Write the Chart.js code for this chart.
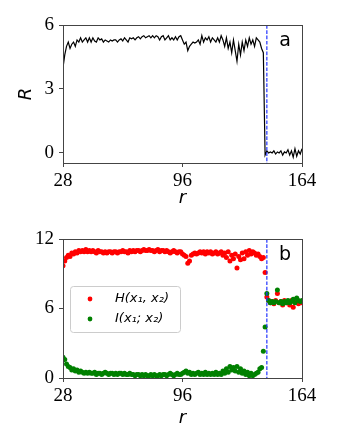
<!DOCTYPE html>
<html>
<head>
<meta charset="utf-8">
<script src="https://cdn.jsdelivr.net/npm/chart.js@4.4.0/dist/chart.umd.min.js"></script>
<style>
  body { margin: 0; background: #fff; }
  #wrapA { position: absolute; left: 0; top: 0; width: 338px; height: 215px; }
  #wrapB { position: absolute; left: 0; top: 215px; width: 338px; height: 232px; }
</style>
</head>
<body>
<div id="wrapA"><canvas id="chartA"></canvas></div>
<div id="wrapB"><canvas id="chartB"></canvas></div>
<script>
// r goes 28..164 in steps of 1
const r = Array.from({length: 137}, (_, i) => 28 + i);

const R = [
  4.0,4.6,5.0,5.2,4.9,5.1,5.2,5.0,5.3,5.2,
  5.4,5.2,5.3,5.4,5.2,5.4,5.2,5.4,5.25,5.2,
  5.4,5.3,5.35,5.2,5.3,5.25,5.2,5.3,5.25,5.3,
  5.3,5.2,5.3,5.35,5.25,5.4,5.3,5.2,5.4,5.35,
  5.4,5.3,5.4,5.45,5.35,5.45,5.5,5.4,5.45,5.5,
  5.4,5.5,5.4,5.5,5.45,5.3,5.45,5.5,5.3,5.4,
  5.5,5.3,5.4,5.3,5.45,5.3,5.45,5.5,5.3,5.1,
  5.2,4.8,5.0,5.1,5.2,5.15,5.2,5.3,5.1,5.5,
  5.2,5.4,5.3,5.45,5.2,5.4,5.3,5.2,5.4,5.2,
  5.5,5.3,5.0,5.4,4.9,5.2,4.7,5.3,4.8,4.3,
  5.1,4.6,5.2,4.8,5.3,5.0,5.4,5.1,5.3,5.0,
  5.4,5.3,5.2,4.9,4.7,-0.1,0.1,0.0,0.05,0.0,
  0.1,-0.05,0.05,0.0,0.1,-0.1,0.05,0.0,0.15,-0.1,
  0.1,-0.2,0.2,-0.15,0.1,-0.05,0.2
];

const H = [
  9.7,10.1,10.4,10.6,10.5,10.8,10.7,10.9,10.8,11.0,
  10.9,11.0,10.9,11.1,10.9,11.0,10.9,11.0,10.9,10.8,
  11.0,10.9,10.9,10.8,10.9,10.8,10.9,10.9,10.8,10.9,
  10.9,10.8,10.9,10.9,11.0,10.9,10.9,10.8,11.0,10.9,
  11.0,10.9,11.0,11.0,10.9,11.0,11.1,11.0,11.0,11.1,
  11.0,11.0,10.9,11.0,11.1,10.9,11.0,11.0,10.9,11.0,
  10.9,10.8,10.9,11.0,10.9,10.8,10.9,10.9,10.7,10.6,
  10.5,9.9,10.1,10.6,10.7,10.8,10.7,10.8,10.9,10.8,
  10.9,10.7,10.9,10.8,10.9,10.7,10.8,10.9,10.7,10.8,
  10.9,10.6,10.8,10.4,10.9,10.1,10.6,10.3,10.7,9.5,
  10.5,10.2,10.8,10.3,10.9,10.6,11.0,10.7,10.9,10.8,
  10.6,10.7,10.5,10.3,10.4,9.1,7.0,6.7,6.5,6.6,
  6.4,6.7,7.3,6.5,6.6,6.3,6.7,6.5,6.6,6.3,
  6.7,6.1,6.6,6.8,6.4,6.6,6.5
];

const I = [
  1.8,1.6,1.2,1.0,0.9,0.7,0.8,0.6,0.7,0.5,
  0.6,0.5,0.4,0.5,0.4,0.5,0.4,0.4,0.5,0.3,
  0.4,0.4,0.3,0.4,0.5,0.4,0.3,0.4,0.4,0.3,
  0.4,0.3,0.4,0.4,0.3,0.4,0.3,0.3,0.4,0.3,
  0.3,0.2,0.3,0.3,0.2,0.3,0.2,0.3,0.2,0.2,
  0.3,0.2,0.3,0.2,0.2,0.3,0.2,0.3,0.3,0.2,
  0.3,0.4,0.3,0.2,0.3,0.4,0.3,0.3,0.4,0.5,
  0.6,0.4,0.5,0.3,0.4,0.3,0.4,0.5,0.3,0.4,
  0.3,0.5,0.3,0.4,0.3,0.4,0.3,0.5,0.3,0.4,
  0.3,0.6,0.4,0.8,0.5,1.0,0.7,0.9,0.6,1.0,
  0.5,0.8,0.4,0.6,0.3,0.5,0.2,0.4,0.2,0.3,
  0.4,0.5,0.8,0.9,2.3,4.4,7.3,6.7,6.5,6.6,
  6.5,6.6,7.6,6.5,6.6,6.4,6.6,6.5,6.7,6.5,
  6.6,6.8,6.5,6.9,6.7,6.6,6.7
];

const xTicks = [28, 96, 164];
const yTicksA = [0, 3, 6];
const yTicksB = [0, 6, 12];
const vline = 144;
const legendLabels = ['H(x\u2081, x\u2082)', 'I(x\u2081; x\u2082)'];

const tickFont = { family: 'Liberation Serif', size: 19 };
const axisColor = '#444';

function pts(ys) {
  return r.map((v, i) => ({ x: v, y: ys[i] }));
}

function xScale(h, titlePad) {
  return {
    type: 'linear', min: 28, max: 164,
    afterBuildTicks: s => { s.ticks = xTicks.map(v => ({ value: v })); },
    afterFit: s => { s.height = h; },
    grid: { drawOnChartArea: false, drawTicks: true, tickLength: 4, color: axisColor },
    border: { display: true, color: axisColor, width: 1 },
    ticks: { color: '#000', font: tickFont, padding: 3, maxRotation: 0 },
    title: { display: true, text: 'r', color: '#000',
      font: { family: 'DejaVu Sans', size: 18, style: 'italic' }, padding: { bottom: titlePad } }
  };
}

function yScale(min, max, ticks, title) {
  return {
    min: min, max: max,
    afterBuildTicks: s => { s.ticks = ticks.map(v => ({ value: v })); },
    afterFit: s => { s.width = 63; },
    grid: { drawOnChartArea: false, drawTicks: true, tickLength: 4, color: axisColor },
    border: { display: true, color: axisColor, width: 1 },
    ticks: { color: '#000', font: tickFont, padding: 5 },
    title: { display: !!title, text: title, color: '#000',
      font: { family: 'DejaVu Sans', size: 18, style: 'italic' }, padding: { top: 16 } }
  };
}

// frame, dashed line, panel letter
function panelPlugin(letter, legend) {
  return {
    id: 'panel' + letter,
    afterDatasetsDraw(chart) {
      const ctx = chart.ctx, a = chart.chartArea;
      const x = chart.scales.x.getPixelForValue(vline);
      ctx.save();
      ctx.strokeStyle = '#2233ff';
      ctx.lineWidth = 1.2;
      ctx.setLineDash([3.7, 1.6]);
      ctx.beginPath();
      ctx.moveTo(x, a.top);
      ctx.lineTo(x, a.bottom);
      ctx.stroke();
      ctx.restore();
    },
    afterDraw(chart) {
      const ctx = chart.ctx, a = chart.chartArea;
      ctx.save();
      ctx.strokeStyle = axisColor;
      ctx.lineWidth = 1;
      ctx.strokeRect(a.left + 0.5, a.top + 0.5, a.right - a.left, a.bottom - a.top);
      ctx.fillStyle = '#000';
      ctx.font = '19px "DejaVu Sans"';
      ctx.textAlign = 'center';
      ctx.textBaseline = 'middle';
      ctx.fillText(letter, a.right - 17, a.top + 16);
      if (legend) {
        const lx = 70, ly = 71, lw = 110, lh = 46;
        ctx.fillStyle = 'rgba(255,255,255,0.8)';
        ctx.strokeStyle = '#cccccc';
        ctx.beginPath();
        ctx.roundRect(lx + 0.5, ly + 0.5, lw, lh, 3);
        ctx.fill();
        ctx.stroke();
        const cols = ['#ff0000', '#008000'];
        ctx.font = 'italic 13px "DejaVu Sans"';
        ctx.textAlign = 'left';
        legendLabels.forEach((t, i) => {
          const yy = ly + 13 + i * 20;
          ctx.fillStyle = cols[i];
          ctx.beginPath();
          ctx.arc(90, yy, 2.4, 0, Math.PI * 2);
          ctx.fill();
          ctx.fillStyle = '#000';
          ctx.fillText(t, 115, yy);
        });
      }
      ctx.restore();
    }
  };
}

new Chart(document.getElementById('chartA'), {
  type: 'line',
  data: { datasets: [{ data: pts(R), borderColor: '#000', borderWidth: 1.2, pointRadius: 0, tension: 0 }] },
  options: {
    responsive: true, maintainAspectRatio: false, animation: false,
    layout: { padding: { top: 25, right: 36, left: 0, bottom: 0 } },
    plugins: { legend: { display: false }, tooltip: { enabled: false } },
    scales: { x: xScale(52, 6), y: yScale(-0.47, 6, yTicksA, 'R') }
  },
  plugins: [panelPlugin('a', false)]
});

new Chart(document.getElementById('chartB'), {
  type: 'scatter',
  data: { datasets: [
    { label: legendLabels[0], data: pts(H), backgroundColor: '#ff0000', pointRadius: 2.5, borderWidth: 0, order: 1 },
    { label: legendLabels[1], data: pts(I), backgroundColor: '#008000', pointRadius: 2.5, borderWidth: 0, order: 0 }
  ] },
  options: {
    responsive: true, maintainAspectRatio: false, animation: false,
    layout: { padding: { top: 24, right: 36, left: 0, bottom: 0 } },
    plugins: { legend: { display: false }, tooltip: { enabled: false } },
    scales: { x: xScale(69, 18), y: yScale(0, 12, yTicksB, '') }
  },
  plugins: [panelPlugin('b', true)]
});
</script>
</body>
</html>
